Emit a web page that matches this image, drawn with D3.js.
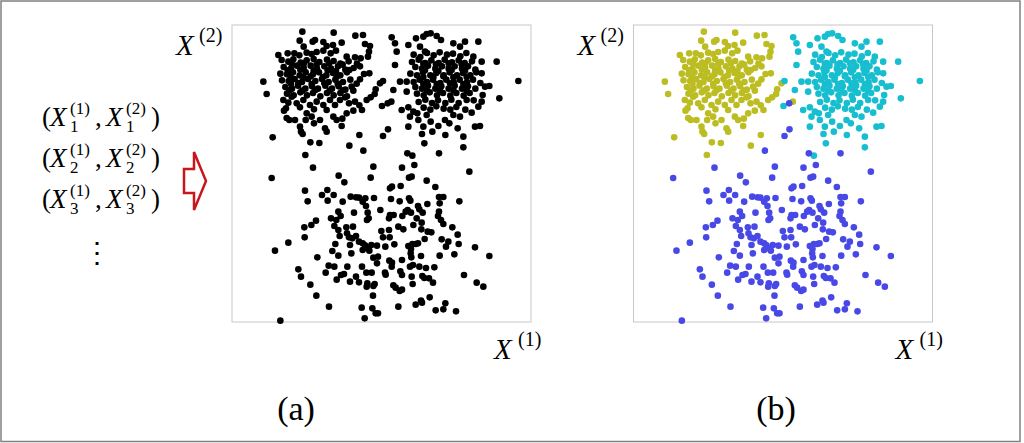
<!DOCTYPE html>
<html><head><meta charset="utf-8">
<script src="https://cdn.jsdelivr.net/npm/d3@7"></script>
<style>html,body{margin:0;padding:0;background:#fff;}svg{display:block;}</style>
</head><body>
<svg id="chart" width="1024" height="443"></svg>
<script>
// Upper-left cluster (yellow in (b))
const groupA = [
[211,871],[305,868],[370,859],[393,861],[203,844],[242,841],[249,846],[274,840],[303,831],[329,838],[215,826],[284,828],[399,834],[414,828],[411,811],[408,796],
[139,801],[167,806],[187,806],[202,800],[224,808],[239,804],[254,810],[274,814],[296,806],[312,814],[344,796],[369,794],[386,791],
[94,721],[104,684],[444,716],[431,698],[428,684],[404,666],[416,674],[382,650],[390,636],[364,634],[478,661],[396,744],[412,746],[384,728],[359,706],[364,694],
[154,666],[162,641],[156,634],[172,606],[164,612],[189,606],[204,586],[221,606],[224,626],[239,616],[246,596],[264,606],[279,581],[284,636],[304,616],[314,606],[331,610],[329,588],[344,626],[351,656],
[179,676],[194,656],[214,666],[234,651],[254,661],[274,651],[294,666],[309,651],[324,666],[339,674],[369,661],
[149,786],[169,781],[184,788],[206,778],[224,785],[245,789],[262,780],[285,787],[305,783],[325,775],[350,782],[375,775],
[155,765],[177,760],[195,769],[215,763],[236,769],[255,760],[277,767],[297,760],[318,767],[340,757],[365,762],[384,767],
[145,745],[165,743],[183,749],[203,740],[221,749],[243,743],[261,749],[283,740],[303,747],[325,740],[345,749],
[150,725],[170,723],[188,729],[210,720],[228,729],[250,723],[270,729],[290,720],[310,727],[333,720],[355,727],[374,715],
[160,705],[180,700],[198,709],[220,700],[240,707],[258,700],[280,709],[300,700],[320,707],[340,697],
[165,685],[185,680],[205,689],[225,680],[243,687],[265,677],[285,687],[305,680],[325,687],[345,677],
[179,775],[216,777],[254,773],[292,776],[332,772],
[167,755],[205,757],[245,754],[287,755],[312,753],[352,756],
[176,735],[214,734],[236,737],[273,735],[314,736],
[177,715],[199,717],[239,714],[277,716],[317,715],
[172,695],[211,694],[250,696],[293,694],[332,695],
[169,658],[204,644],[246,638],
[122,554],[207,571],[212,564],[284,571],[235,539],[262,537],[352,529],[220,501],[382,561]
];
// Upper-right cluster (cyan in (b))
const groupB = [
[584,864],[596,866],[552,851],[574,856],[614,858],[627,846],[699,841],[739,841],[479,854],[494,811],[489,771],[529,831],[564,826],[579,811],[664,836],[684,826],
[724,796],[749,781],[794,781],[859,723],[802,671],[759,706],[749,746],[772,708],[504,721],[484,696],[453,723],[450,648],[524,721],[524,691],
[509,636],[529,644],[544,631],[534,616],[559,606],[556,626],[584,621],[574,586],[596,601],[619,588],[639,606],[652,596],[664,621],[684,616],[677,581],
[729,586],[744,588],[719,628],[739,646],[749,661],[752,681],[704,666],[529,586],[489,836],
[545,802],[565,795],[585,807],[605,800],[623,809],[645,802],[663,805],[685,797],[703,807],
[540,780],[560,787],[580,777],[598,785],[620,777],[638,787],[660,779],[680,785],[698,777],[720,782],
[550,765],[570,760],[588,769],[610,760],[630,767],[650,760],[668,767],[690,760],[708,767],[730,757],
[535,745],[555,740],[573,749],[595,740],[613,747],[635,740],[653,749],[675,740],[693,747],[715,740],[733,749],
[545,720],[563,727],[585,720],[603,727],[625,717],[643,727],[665,719],[683,727],[705,719],[723,727],[745,717],
[550,705],[570,700],[588,709],[610,700],[628,707],[650,700],[668,709],[690,700],[708,707],[730,700],
[555,685],[575,680],[593,689],[615,680],[633,687],[655,679],[673,687],[695,679],[713,687],
[560,660],[580,667],[600,657],[618,665],[640,657],[658,667],[680,657],[725,665],
[575,643],[595,637],[613,647],[635,640],[655,637],[673,645],[700,637],
[574,775],[612,773],[650,776],[689,773],
[579,755],[619,753],[659,756],[699,754],
[574,735],[604,734],[634,737],[664,734],[704,735],
[574,715],[614,714],[654,716],[694,714],
[584,695],[624,694],[664,696],[704,694],
[570,564],[601,571],[640,561],[694,556],[577,536],[694,524],[541,499]
];
// Lower cluster (blue in (b))
const groupC = [
[467,656],[468,578],[453,558],[394,514],[526,506],[621,506],
[243,463],[424,466],[510,463],[547,471],[712,451],[119,432],[320,439],[416,433],[531,433],[539,436],[584,424],[337,419],
[474,401],[480,406],[506,408],[610,405],[219,394],[286,396],[270,381],[305,381],[287,364],[227,362],[332,361],[356,376],[372,374],[381,373],[400,371],[426,372],[392,361],[402,348],
[477,369],[503,362],[531,371],[535,364],[558,348],[586,354],[621,375],[634,375],[623,356],[682,362],
[319,331],[326,318],[297,311],[313,306],[366,328],[407,328],[410,311],[405,306],[445,336],[474,321],[485,321],[511,318],[521,331],[527,336],[537,328],[554,311],[562,338],[572,328],[621,331],[618,318],[627,306],
[252,304],[238,291],[217,284],[307,288],[343,284],[363,286],[471,311],[499,286],[514,278],[544,291],[569,298],[568,278],[587,271],[598,269],[634,294],[661,284],
[319,276],[323,258],[345,266],[351,254],[361,251],[372,258],[354,231],[381,241],[392,236],[399,230],[407,221],[418,231],[435,229],[448,273],[471,276],[453,254],[473,254],[487,233],[460,226],
[529,228],[541,234],[551,234],[558,236],[537,219],[578,249],[629,248],[649,241],[642,226],[680,234],[677,262],[218,254],[169,238],[310,234],
[129,214],[301,213],[319,199],[358,206],[392,216],[412,214],[424,193],[438,196],[435,176],[472,184],[480,178],[510,186],[536,206],[538,194],[567,198],[543,171],[534,166],[562,166],[582,162],[607,164],[623,199],[667,203],[729,224],[772,198],
[256,194],[290,169],[307,166],[346,166],[390,166],[403,148],[419,148],[336,144],[327,141],[281,148],[199,158],[207,136],[459,148],[479,166],[505,152],[510,141],
[314,127],[354,121],[372,136],[381,119],[406,116],[404,106],[428,114],[424,108],[461,142],[484,110],[491,103],[503,93],[510,97],[539,136],[542,114],[571,138],[577,132],[591,131],[603,118],[696,141],[734,118],[754,106],[235,112],
[253,79],[291,46],[423,79],[389,43],[421,41],[431,26],[438,26],[499,46],[551,52],[567,64],[570,58],[593,74],[611,35],[634,38],[640,56],[672,32],[145,4],[398,11]
];
const panelLabels = ["(a)", "(b)"];
const rowIndices = ["1", "2", "3"];
const coordNames = ["(1)", "(2)"];

const svg = d3.select("#chart");
const W = 299, H = 297;
const x = d3.scaleLinear().domain([0, 897]).range([0, W]);
const y = d3.scaleLinear().domain([0, 891]).range([H, 0]);
const serif = "'Liberation Serif','DejaVu Serif',serif";

// outer frame
svg.append("rect").attr("x", 1).attr("y", 1).attr("width", 1019).attr("height", 440.5)
  .attr("fill", "none").attr("stroke", "#808080").attr("stroke-width", 1.5);

function axisLabels(ox) {
  svg.append("text").attr("x", ox - 56).attr("y", 55).attr("font-family", serif)
    .attr("font-style", "italic").attr("font-size", 29).text("X");
  svg.append("text").attr("x", ox - 33).attr("y", 42).attr("font-family", serif)
    .attr("font-size", 20).text(coordNames[1]);
  svg.append("text").attr("x", ox + 262).attr("y", 359).attr("font-family", serif)
    .attr("font-style", "italic").attr("font-size", 29).text("X");
  svg.append("text").attr("x", ox + 286).attr("y", 346).attr("font-family", serif)
    .attr("font-size", 20).text(coordNames[0]);
}

function panel(ox, colors, label, labelX) {
  const g = svg.append("g").attr("transform", `translate(${ox},25)`);
  g.append("rect").attr("x", 0).attr("y", 0).attr("width", W).attr("height", H)
    .attr("fill", "none").attr("stroke", "#c8c8c8").attr("stroke-width", 1);
  [groupA, groupB, groupC].forEach((grp, i) => {
    g.append("g").selectAll("circle").data(grp).join("circle")
      .attr("cx", d => x(d[0])).attr("cy", d => y(d[1])).attr("r", 3.3)
      .attr("fill", colors[i]);
  });
  axisLabels(ox);
  svg.append("text").attr("x", labelX).attr("y", 420).attr("text-anchor", "middle")
    .attr("font-family", serif).attr("font-size", 34).text(label);
}

panel(232, ["#000", "#000", "#000"], panelLabels[0], 296);
panel(633.5, ["#bcbd22", "#17becf", "#4848e6"], panelLabels[1], 776);

// list of observations
rowIndices.forEach((idx, i) => {
  const by = 126 + 41 * i;
  const t = (xx, yy, s, txt, it) => svg.append("text").attr("x", xx).attr("y", yy)
    .attr("font-family", serif).attr("font-size", s).attr("font-style", it ? "italic" : "normal").text(txt);
  t(42, by, 27, "(", false);
  t(50, by, 27, "X", true);
  t(70, by - 12, 17, coordNames[0], false);
  t(70, by + 6, 17, idx, false);
  t(95, by, 27, ",", false);
  t(106, by, 27, "X", true);
  t(126, by - 12, 17, coordNames[1], false);
  t(126, by + 6, 17, idx, false);
  t(151, by, 27, ")", false);
});
svg.append("text").attr("x", 97).attr("y", 262).attr("text-anchor", "middle")
  .attr("font-family", serif).attr("font-size", 28).text("⋮");

// arrow
svg.append("path")
  .attr("d", "M184,169 L194,169 L194,152 L206,181 L194,210 L194,193 L184,193 Z")
  .attr("fill", "#fff").attr("stroke", "#c8161d").attr("stroke-width", 2.5)
  .attr("stroke-linejoin", "miter");
</script>
</body></html>
